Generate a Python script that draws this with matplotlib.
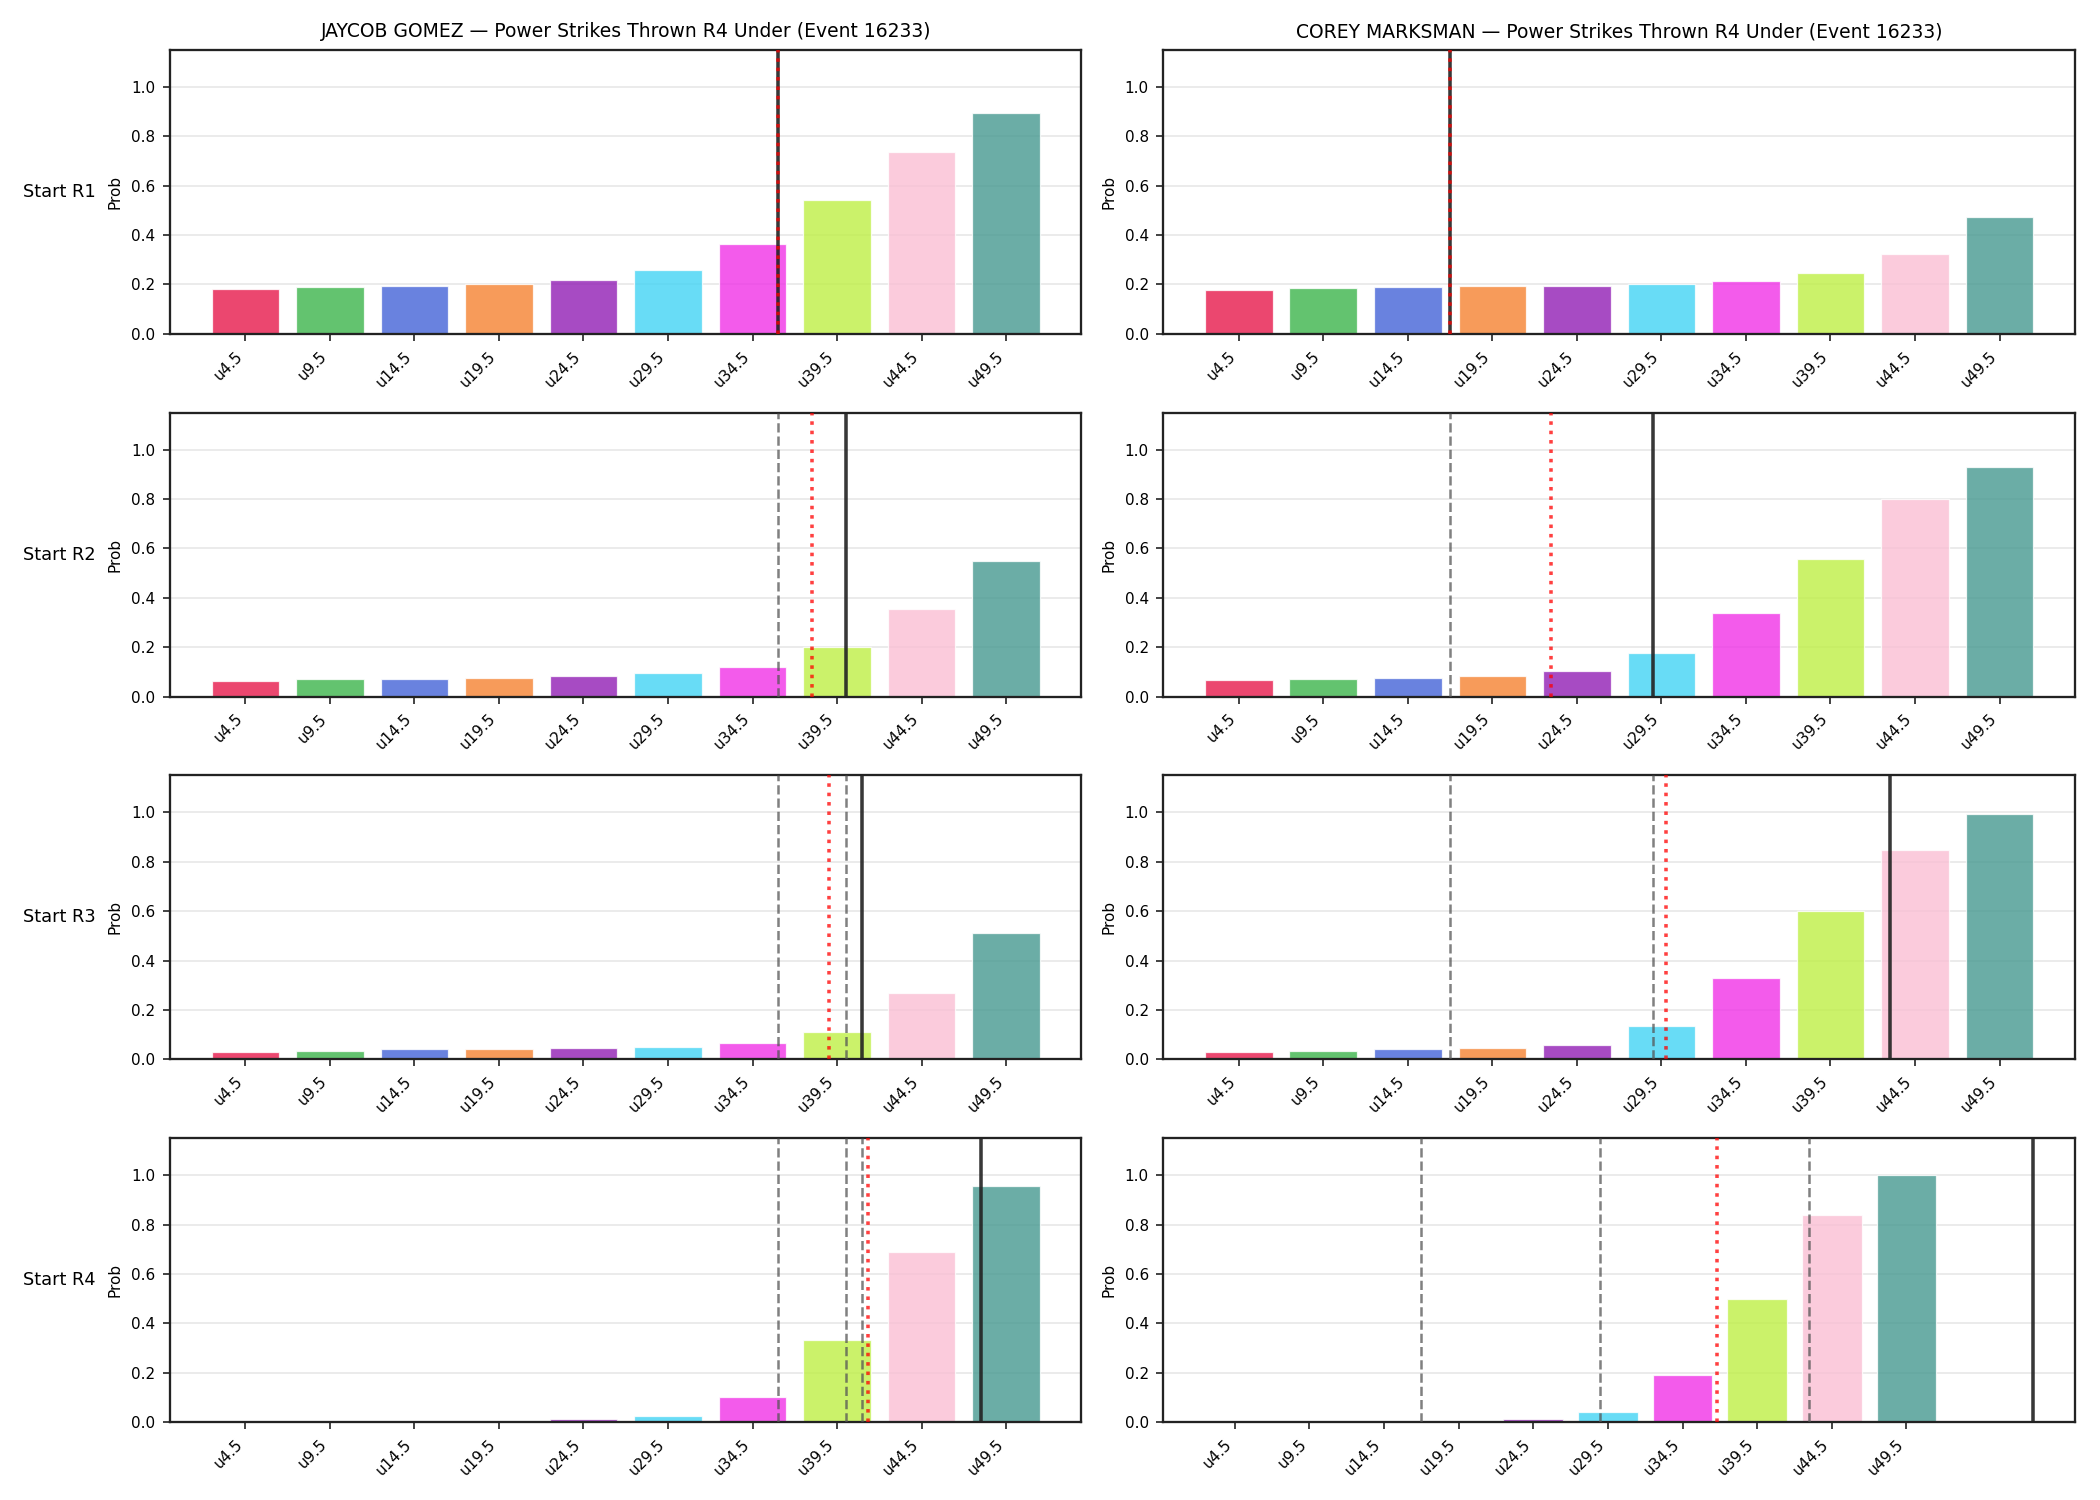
import numpy as np
import matplotlib
matplotlib.use("Agg")
import matplotlib.pyplot as plt

# ---- data ----
thresholds = [4.5, 9.5, 14.5, 19.5, 24.5, 29.5, 34.5, 39.5, 44.5, 49.5]
tick_labels = [f"u{t}" for t in thresholds]
row_labels = ["Start R1", "Start R2", "Start R3", "Start R4"]
fighters = ["JAYCOB GOMEZ", "COREY MARKSMAN"]
event_id = 16233

jaycob_r1 = [0.182, 0.190, 0.194, 0.203, 0.219, 0.259, 0.365, 0.543, 0.737, 0.895]
jaycob_r2 = [0.061, 0.072, 0.073, 0.077, 0.085, 0.097, 0.118, 0.202, 0.355, 0.550]
jaycob_r3 = [0.030, 0.034, 0.042, 0.042, 0.047, 0.050, 0.067, 0.110, 0.267, 0.510]
jaycob_r4 = [0.0008, 0.0015, 0.003, 0.006, 0.012, 0.026, 0.102, 0.331, 0.688, 0.958]

corey_r1 = [0.178, 0.187, 0.191, 0.195, 0.195, 0.203, 0.215, 0.247, 0.324, 0.474]
corey_r2 = [0.066, 0.073, 0.077, 0.085, 0.103, 0.178, 0.340, 0.556, 0.800, 0.931]
corey_r3 = [0.030, 0.034, 0.042, 0.047, 0.059, 0.133, 0.328, 0.599, 0.849, 0.992]
corey_r4 = [0.0005, 0.001, 0.002, 0.006, 0.013, 0.041, 0.190, 0.497, 0.837, 0.999]

# projected totals (black solid) and current pace (red dotted), in strikes
jaycob_proj = [36.0, 40.0, 41.0, 48.0]
jaycob_pace = [36.0, 38.0, 39.0, 41.3]
corey_proj = [17.0, 29.0, 43.0, 58.0]
corey_pace = [17.0, 23.0, 29.75, 36.8]

colors = ["#e6194b", "#3cb44b", "#4363d8", "#f58231", "#911eb4",
          "#42d4f4", "#f032e6", "#bfef45", "#fabed4", "#469990"]

probs = [[jaycob_r1, corey_r1], [jaycob_r2, corey_r2],
         [jaycob_r3, corey_r3], [jaycob_r4, corey_r4]]
projs = [jaycob_proj, corey_proj]
paces = [jaycob_pace, corey_pace]

step = thresholds[1] - thresholds[0]


def to_pos(v):
    return (v - thresholds[0]) / step


fig, axes = plt.subplots(4, 2, figsize=(14, 10), dpi=150)
fig.subplots_adjust(left=0.081, right=0.988, top=0.9667, bottom=0.052,
                    hspace=0.278, wspace=0.09)

spine_c = "#222222"
x = np.arange(len(thresholds))
for r in range(4):
    for c in range(2):
        ax = axes[r, c]
        ax.bar(x, probs[r][c], width=0.8, color=colors, alpha=0.8,
               edgecolor="white", linewidth=0.6, zorder=2)
        for prev in range(r):
            ax.axvline(to_pos(projs[c][prev]), color="#555555", linestyle="--",
                       linewidth=1.2, alpha=0.75, zorder=3)
        ax.axvline(to_pos(projs[c][r]), color="#222222", linestyle="-",
                   linewidth=1.7, alpha=0.9, zorder=4)
        ax.axvline(to_pos(paces[c][r]), color="red", linestyle=":",
                   linewidth=1.7, alpha=0.75, zorder=5)
        ax.set_ylim(0, 1.15)
        ax.set_xticks(x)
        ax.set_xticklabels(tick_labels, rotation=45, ha="right", fontsize=7.3)
        ax.tick_params(axis="y", labelsize=7.3, color=spine_c)
        ax.tick_params(axis="x", color=spine_c)
        ax.set_ylabel("Prob", fontsize=7.3)
        ax.grid(axis="y", alpha=0.3, zorder=0)
        ax.set_axisbelow(True)
        for s in ax.spines.values():
            s.set_color(spine_c)
            s.set_linewidth(1.1)
        if r == 0:
            ax.set_title(f"{fighters[c]} \u2014 Power Strikes Thrown R4 Under (Event {event_id})",
                         fontsize=9)
    pos = axes[r, 0].get_position()
    fig.text(0.011, (pos.y0 + pos.y1) / 2, row_labels[r], fontsize=8.5,
             ha="left", va="center")

fig.savefig("out.png", dpi=150)
